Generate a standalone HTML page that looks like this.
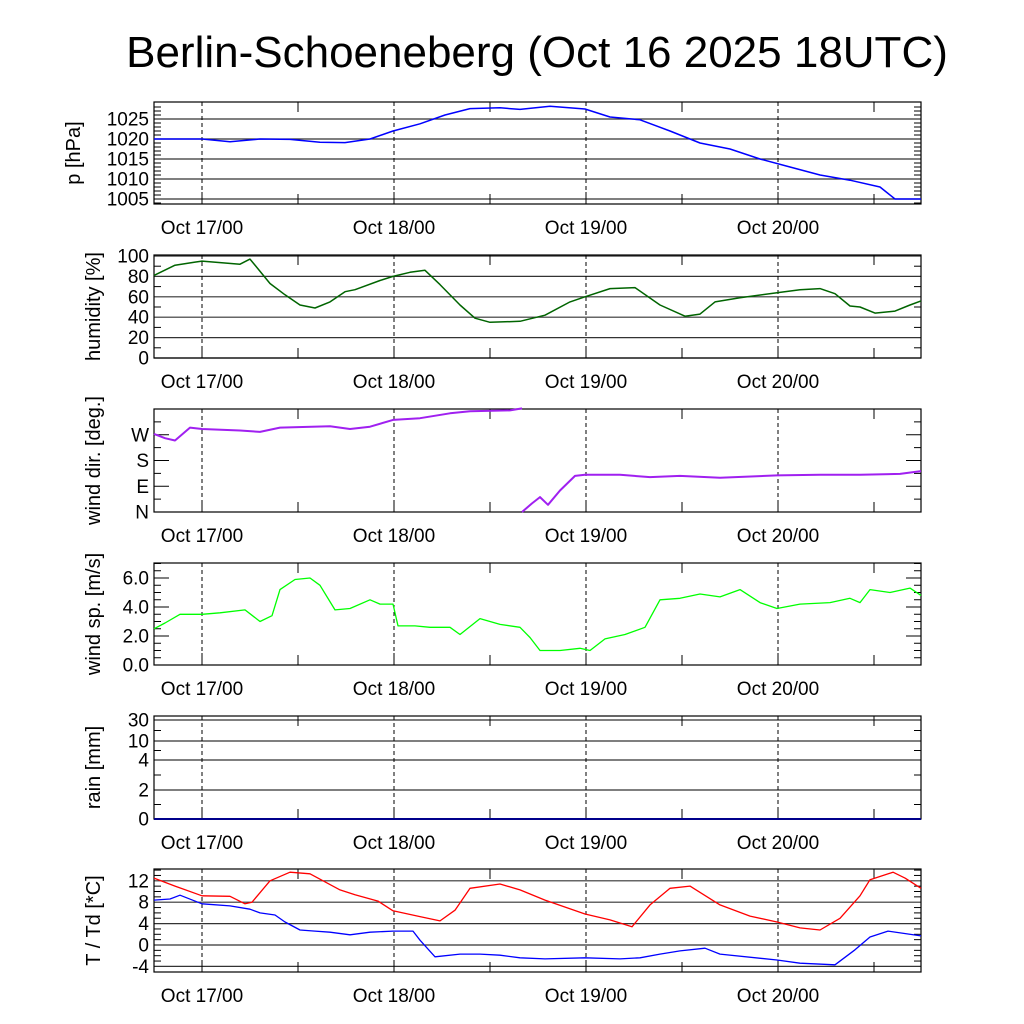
<!DOCTYPE html>
<html><head><meta charset="utf-8"><style>
html,body{margin:0;padding:0;background:#fff;width:1024px;height:1024px;overflow:hidden}
svg{display:block;font-family:"Liberation Sans",sans-serif}
</style></head><body>
<svg id="c" width="1024" height="1024" viewBox="0 0 1024 1024">
<text x="537" y="67" font-size="44" text-anchor="middle">Berlin-Schoeneberg (Oct 16 2025 18UTC)</text>
</svg>
<script>
// hours relative to Oct 17 00UTC
const dayTicks=[0,24,48,72];
const dayLabels=["Oct 17/00","Oct 18/00","Oct 19/00","Oct 20/00"];
const pX=[154,202,230,260,290,320,345,370,393,420,445,470,500,520,550,585,610,640,670,700,730,760,790,820,850,880,895,921];
const pV=[1020,1020,1019.3,1020,1019.9,1019.2,1019.1,1020,1022,1023.8,1026,1027.6,1027.8,1027.4,1028.2,1027.5,1025.5,1024.8,1022,1019,1017.5,1015,1013,1011,1009.7,1008,1005,1005];
const hX=[154,175,195,202,240,250,270,285,300,315,330,345,355,380,393,410,425,440,460,475,490,520,545,570,585,610,635,660,685,700,715,740,777,800,820,835,850,860,875,895,910,921];
const hV=[81,91,94,95,92,97,73,62,52,49,55,65,67,76,80,84,86,72,52,39,35,36,42,55,60,68,69,52,41,43,55,59,64,67,68,63,51,50,44,46,52,56];
const dX1=[154,165,175,190,202,240,260,280,330,350,370,393,420,450,470,510,522];
const dV1=[273,258,250,295,290,285,280,295,300,290,298,322,328,345,352,355,362];
const dX2=[522,532,540,548,560,575,585,620,650,680,720,777,820,860,900,921];
const dV2=[0,30,52,25,75,126,130,130,122,126,120,128,130,130,133,143];
const sX=[154,165,180,202,220,245,260,272,280,295,310,320,335,350,370,380,393,398,415,430,450,460,480,500,520,530,540,560,580,590,605,625,645,660,680,700,720,740,760,777,800,830,850,860,870,890,910,921];
const sV=[2.5,2.9,3.5,3.5,3.6,3.8,3.0,3.4,5.2,5.9,6.0,5.5,3.8,3.9,4.5,4.2,4.2,2.7,2.7,2.6,2.6,2.1,3.2,2.8,2.6,1.9,1.0,1.0,1.15,1.0,1.8,2.1,2.6,4.5,4.6,4.9,4.7,5.2,4.3,3.9,4.2,4.3,4.6,4.3,5.2,5.0,5.3,4.8];
const tX=[154,175,202,230,245,252,270,290,310,340,355,378,393,420,440,455,470,500,520,545,585,610,632,650,670,690,720,750,777,800,820,840,860,870,893,905,921];
const tV=[12.5,11,9.2,9.1,7.7,8.0,12,13.6,13.3,10.3,9.4,8.2,6.4,5.3,4.5,6.5,10.6,11.4,10.3,8.4,5.8,4.7,3.4,7.5,10.6,11,7.5,5.4,4.3,3.2,2.8,5,9.2,12.2,13.6,12.5,10.6];
const tdX=[154,170,180,202,230,250,260,275,285,300,315,330,350,370,393,413,420,435,460,480,500,520,545,585,620,640,660,680,705,720,777,800,835,855,870,888,921];
const tdV=[8.4,8.6,9.3,7.7,7.3,6.7,6.0,5.6,4.3,2.8,2.6,2.4,1.9,2.4,2.6,2.6,0.9,-2.2,-1.7,-1.7,-1.9,-2.4,-2.6,-2.4,-2.6,-2.4,-1.7,-1.1,-0.6,-1.7,-2.8,-3.4,-3.7,-0.9,1.5,2.6,1.7];
const rainX=[154,380,921];
const rainV=[0,0,0];

const NS="http://www.w3.org/2000/svg";
const svg=document.getElementById('c');
const L=154,R=921;
function xH(h){return 202+h*8;}
function el(t,a,p){const e=document.createElementNS(NS,t);for(const k in a)e.setAttribute(k,a[k]);(p||svg).appendChild(e);return e;}
function panel(name,top,bot,ylab,yfn,ticks,tickLabels,grid,minor){
  const g=el('g',{});
  
  
  ticks.forEach((v,i)=>{const y=yfn(v);
    if(grid){const ln=el('line',{x1:L,x2:R,y1:y,y2:y,stroke:'#333','stroke-width':1.2},g);}
    else{el('line',{x1:L,x2:L+15,y1:y,y2:y,stroke:'#000'},g);el('line',{x1:R-15,x2:R,y1:y,y2:y,stroke:'#000'},g);}
    const t=el('text',{x:L-5,y:y+6.5,'font-size':19,'text-anchor':'end'},g);t.textContent=tickLabels[i];
    
  });
  minor.forEach(v=>{const y=yfn(v);el('line',{x1:L,x2:L+7,y1:y,y2:y,stroke:'#000'},g);el('line',{x1:R-7,x2:R,y1:y,y2:y,stroke:'#000'},g);});
  dayTicks.forEach((h,i)=>{const x=xH(h);
    const d=el('line',{x1:x,x2:x,y1:top,y2:bot,stroke:'#000','stroke-dasharray':'4,3'},g);
    
    el('line',{x1:x,x2:x,y1:bot-12,y2:bot,stroke:'#000'},g);
    const xm=xH(h+12);el('line',{x1:xm,x2:xm,y1:bot-10,y2:bot,stroke:'#000'},g);el('line',{x1:xm,x2:xm,y1:top,y2:top+10,stroke:'#000'},g);
    const t=el('text',{x:x,y:bot+30,'font-size':19,'text-anchor':'middle'},g);t.textContent=dayLabels[i];
    
  });
  const fr=el('rect',{x:L,y:top,width:R-L,height:bot-top,fill:'none',stroke:'#000','stroke-width':1.2},g);
  
  const yl=el('text',{x:0,y:0,'font-size':20,'text-anchor':'middle',transform:`translate(${name==='pressure'?80:100},${(top+bot)/2}) rotate(-90)`},g);
  yl.textContent=ylab;
  return g;
}
function line(name,xs,vs,yfn,color,w){
  const d=xs.map((x,i)=>(i?'L':'M')+x.toFixed(1)+','+yfn(vs[i]).toFixed(1)).join('');
  const p=el('path',{d:d,fill:'none',stroke:color,'stroke-width':w||1.5,'stroke-linejoin':'round'});
  
  
}
const yP=v=>102+(1029.25-v)*4;
panel('pressure',102,204,'p [hPa]',yP,[1025,1020,1015,1010,1005],['1025','1020','1015','1010','1005'],true,[1028,1027,1026,1024,1023,1022,1021,1019,1018,1017,1016,1014,1013,1012,1011,1009,1008,1007,1006,1004]);
line('pressure-line',pX,pV,yP,'#0000ff');
const yHm=v=>358-v*1.02;
panel('humidity',255,358,'humidity [%]',yHm,[100,80,60,40,20,0],['100','80','60','40','20','0'],true,[90,70,50,30,10]);
line('humidity-line',hX,hV,yHm,'#006400');
const yD=v=>512-v*(25.75/90);
panel('wind-dir',409,512,'wind dir. [deg.]',yD,[270,180,90,0],['W','S','E','N'],false,[315,225,135,45]);
line('wind-dir-line-1',dX1,dV1,yD,'#a020f0',2);
line('wind-dir-line-2',dX2,dV2,yD,'#a020f0',2);
const yS=v=>665-v*14.5;
panel('wind-speed',563,665,'wind sp. [m/s]',yS,[6,4,2,0],['6.0','4.0','2.0','0.0'],false,[7,5,3,1,6.5,5.5,4.5,3.5,2.5,1.5,0.5]);
line('wind-speed-line',sX,sV,yS,'#00ff00',1.3);
const rT=[0,2,4,10,30],rY=[819,790,760,741,720];
const yR=v=>{for(let i=1;i<rT.length;i++){if(v<=rT[i])return rY[i-1]+(v-rT[i-1])/(rT[i]-rT[i-1])*(rY[i]-rY[i-1]);}return 716;};
panel('rain',716,819,'rain [mm]',yR,[30,10,4,2,0],['30','10','4','2','0'],true,[1,3,7,20]);
line('rain-line',rainX,rainV,yR,'#00008b',2);
const yT=v=>945-v*5.35;
panel('temperature',869,972,'T / Td [*C]',yT,[12,8,4,0,-4],['12','8','4','0','-4'],true,[14,13,11,10,9,7,6,5,3,2,1,-1,-2,-3]);
line('temperature-line',tX,tV,yT,'#ff0000',1.3);
line('dewpoint-line',tdX,tdV,yT,'#0000ff',1.3);
</script>
</body></html>
